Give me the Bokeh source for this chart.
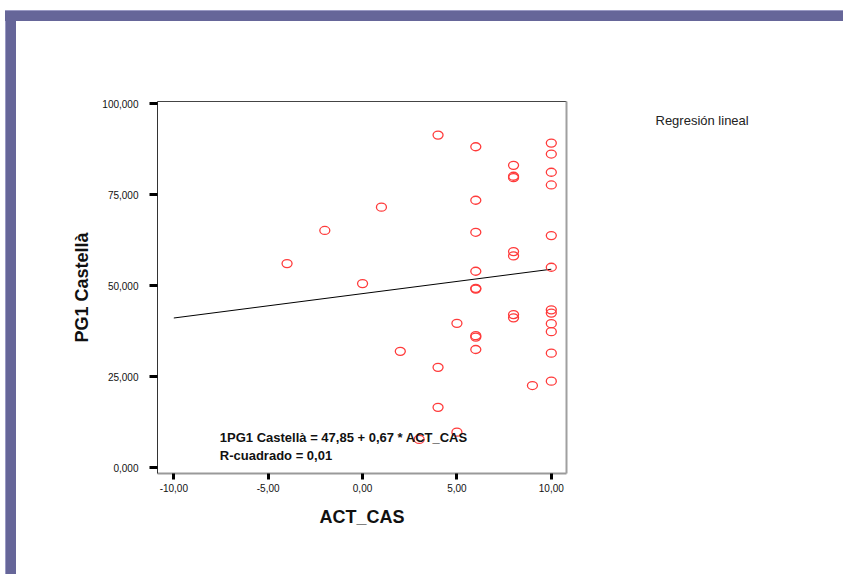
from bokeh.plotting import figure
from bokeh.layouts import column, row, Spacer
from bokeh.models import (Range1d, LinearAxis, FixedTicker, Label, ColumnDataSource)
from bokeh.embed import file_html
from bokeh.resources import INLINE

# ---- data ----
act_cas = [4, 6, 10, 10, 8, 8, 8, 10, 10, 6,
           1, -2, 6, 10, 8, 8, -4, 10, 6, 0,
           6, 6, 10, 10, 8, 8, 5, 10, 10, 6,
           6, 6, 2, 10, 4, 10, 9, 4, 5, 3]
pg1_castella = [91.4, 88.2, 89.2, 86.2, 83.1, 80.1, 79.7, 81.2, 77.7, 73.5,
                71.6, 65.2, 64.7, 63.8, 59.4, 58.2, 56.1, 55.1, 54.0, 50.6,
                49.3, 49.1, 43.4, 42.5, 42.1, 41.2, 39.7, 39.6, 37.4, 36.3,
                35.9, 32.5, 32.0, 31.5, 27.6, 23.8, 22.6, 16.6, 9.8, 7.8]
x_ticks = [-10, -5, 0, 5, 10]
x_tick_labels = ["-10,00", "-5,00", "0,00", "5,00", "10,00"]
y_ticks = [0, 25, 50, 75, 100]
y_tick_labels = ["0,000", "25,000", "50,000", "75,000", "100,000"]
intercept = 47.85
slope = 0.67
fit_x = [-10, 10]
r_squared = 0.01
legend_text = "Regresión lineal"

FONT = "Liberation Sans"
BAND = "#666699"
BAND_EDGE = "#9a9ac4"

# main chart borders (px)
MB_LEFT, MB_RIGHT, MB_TOP, MB_BOTTOM = 141, 34, 80, 101


def blank(w, h, **kw):
    f = figure(width=w, height=h, output_backend="svg", toolbar_location=None,
               x_axis_location=None, y_axis_location=None, **kw)
    f.outline_line_color = None
    f.background_fill_color = "white"
    f.border_fill_color = "white"
    f.xgrid.visible = False
    f.ygrid.visible = False
    return f


# ---- slide frame bands (plain blocks) ----
top_band = Spacer(width=838, height=11,
                  styles={"background-color": BAND,
                          "box-shadow": f"inset 0 1px 0 {BAND_EDGE}"})
left_band = Spacer(width=11, height=553,
                   styles={"background-color": BAND,
                           "box-shadow": f"inset 1px 0 0 {BAND_EDGE}"})

# ---- main chart ----
p = figure(width=584, height=553, output_backend="svg", toolbar_location=None,
           x_range=Range1d(-10.864, 10.805), y_range=Range1d(-1.566, 100.63),
           min_border_left=MB_LEFT, min_border_right=MB_RIGHT,
           min_border_top=MB_TOP, min_border_bottom=MB_BOTTOM)
p.outline_line_color = None
p.background_fill_color = "white"
p.border_fill_color = "white"
p.xgrid.visible = False
p.ygrid.visible = False

xa = p.xaxis[0]
xa.ticker = FixedTicker(ticks=x_ticks)
xa.major_label_overrides = {t: l for t, l in zip(x_ticks, x_tick_labels)}
xa.axis_line_color = "#9a9a9a"
xa.axis_line_width = 2
xa.major_tick_line_color = "black"
xa.major_tick_line_width = 3
xa.major_tick_in = 0
xa.major_tick_out = 6
xa.minor_tick_line_color = None
xa.major_label_text_font = FONT
xa.major_label_text_font_size = "10px"
xa.major_label_text_color = "#111111"
xa.major_label_standoff = 4
xa.axis_label = "ACT_CAS"
xa.axis_label_text_font = FONT
xa.axis_label_text_font_style = "bold"
xa.axis_label_text_font_size = "18px"
xa.axis_label_text_color = "#111111"
xa.axis_label_standoff = 12

ya = p.yaxis[0]
ya.ticker = FixedTicker(ticks=y_ticks)
ya.major_label_overrides = {t: l for t, l in zip(y_ticks, y_tick_labels)}
ya.axis_line_color = "#333333"
ya.axis_line_width = 1
ya.major_tick_line_color = "black"
ya.major_tick_line_width = 3
ya.major_tick_in = 0
ya.major_tick_out = 8
ya.minor_tick_line_color = None
ya.major_label_text_font = FONT
ya.major_label_text_font_size = "10px"
ya.major_label_text_color = "#111111"
ya.major_label_standoff = 11
ya.axis_label = "PG1 Castellà"
ya.axis_label_text_font = FONT
ya.axis_label_text_font_style = "bold"
ya.axis_label_text_font_size = "18px"
ya.axis_label_text_color = "#111111"
ya.axis_label_standoff = 7

top_ax = LinearAxis(ticker=FixedTicker(ticks=[]), axis_line_color="#444444",
                    axis_line_width=1, major_tick_line_color=None,
                    minor_tick_line_color=None, major_label_text_font_size="0px")
right_ax = LinearAxis(ticker=FixedTicker(ticks=[]), axis_line_color="#a0a0a0",
                      axis_line_width=2, major_tick_line_color=None,
                      minor_tick_line_color=None, major_label_text_font_size="0px")
p.add_layout(top_ax, "above")
p.add_layout(right_ax, "right")

fit_y = [intercept + slope * v for v in fit_x]
p.line(fit_x, fit_y, line_color="black", line_width=1)

src = ColumnDataSource(data=dict(x=act_cas, y=pg1_castella))
p.ellipse(x="x", y="y", width=10, height=8, width_units="screen",
          height_units="screen", source=src, fill_color=None,
          line_color="#ff3b3b", line_width=1.3)


def fmt(v):
    return f"{v:.2f}".replace(".", ",")


eq_text = f"1PG1 Castellà = {fmt(intercept)} + {fmt(slope)} * ACT_CAS"
r2_text = f"R-cuadrado = {fmt(r_squared)}"
p.add_layout(Label(x=-7.563, y=8.19, text=eq_text, text_font=FONT,
                   text_font_style="bold", text_font_size="13px",
                   text_color="#111111", text_baseline="alphabetic"))
p.add_layout(Label(x=-7.563, y=3.38, text=r2_text, text_font=FONT,
                   text_font_style="bold", text_font_size="13px",
                   text_color="#111111", text_baseline="alphabetic"))

# ---- right side: legend text (frame matches the main chart's frame) ----
frame_h = 553 - MB_TOP - MB_BOTTOM
side = blank(243, 553, x_range=Range1d(0, 243), y_range=Range1d(0, frame_h),
             min_border_left=0, min_border_right=0,
             min_border_top=MB_TOP, min_border_bottom=MB_BOTTOM)
side.add_layout(Label(x=55, y=frame_h - (120 - 21 - MB_TOP), text=legend_text,
                      text_font=FONT, text_font_size="13px",
                      text_color="#222222", text_baseline="alphabetic"))

layout = column(
    Spacer(width=843, height=10),
    row(Spacer(width=5, height=11), top_band, spacing=0),
    row(Spacer(width=5, height=553), left_band, p, side, spacing=0),
    spacing=0,
)
open("out.html", "w").write(file_html(layout, INLINE))
